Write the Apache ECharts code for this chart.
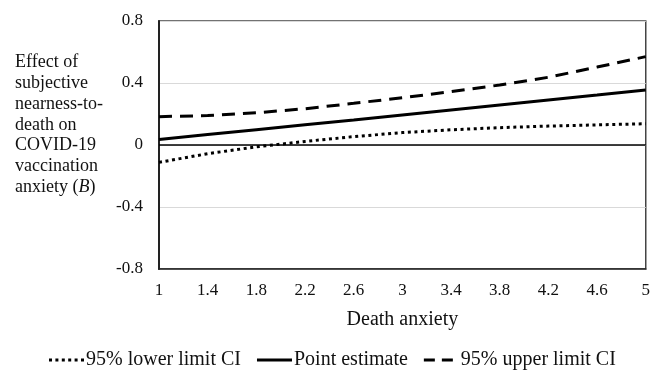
<!DOCTYPE html>
<html>
<head>
<meta charset="utf-8">
<script src="https://cdn.jsdelivr.net/npm/echarts@6/dist/echarts.min.js"></script>
<style>
html,body{margin:0;padding:0;background:#fff;}
#chart{width:653px;height:372px;}
</style>
</head>
<body>
<div id="chart"></div>
<script>
var categories = ['1','1.4','1.8','2.2','2.6','3','3.4','3.8','4.2','4.6','5'];
var lowerCI = [-0.112,-0.056,-0.012,0.023,0.054,0.080,0.098,0.112,0.122,0.130,0.137];
var pointEstimate = [0.035,0.067,0.099,0.131,0.162,0.194,0.226,0.258,0.290,0.322,0.355];
var upperCI = [0.183,0.190,0.208,0.234,0.269,0.305,0.344,0.387,0.437,0.503,0.570];
var seriesNames = ['95% lower limit CI','Point estimate','95% upper limit CI'];
var xTitle = 'Death anxiety';
var yTitle = 'Effect of\nsubjective\nnearness-to-\ndeath on\nCOVID-19\nvaccination\nanxiety ({i|B})';

var FONT = "'Liberation Serif','Times New Roman',serif";
// legend icon shapes (35 x 3 units)
var dotIcon = 'path://M0,0h3v3h-3z M6.4,0h3v3h-3z M12.8,0h3v3h-3z M19.2,0h3v3h-3z M25.6,0h3v3h-3z M32,0h3v3h-3z';
var solidIcon = 'path://M0,0h35v3h-35z';
var dashIcon = 'path://M0,0h11v3h-11z M18,0h11v3h-11z M35,0h0v3h0z';

var chart = echarts.init(document.getElementById('chart'), null, {renderer:'canvas'});
chart.setOption({
  animation: false,
  backgroundColor: '#fff',
  textStyle: {fontFamily: FONT, color: '#000'},
  grid: {left: 159, right: 5, top: 21, bottom: 103, show: true, borderColor: '#444', borderWidth: 1.5, containLabel: false},
  xAxis: {
    type: 'category', data: categories, boundaryGap: false,
    axisLine: {onZero: false, lineStyle: {color: '#222', width: 1.5}},
    axisTick: {show: false},
    axisLabel: {fontFamily: FONT, fontSize: 17, color: '#111', margin: 13},
    splitLine: {show: false},
    name: xTitle, nameLocation: 'middle', nameGap: 41,
    nameTextStyle: {fontFamily: FONT, fontSize: 20, color: '#111'}
  },
  yAxis: {
    type: 'value', min: -0.8, max: 0.8, interval: 0.4,
    axisLine: {show: true, lineStyle: {color: '#222', width: 2}},
    axisTick: {show: false},
    axisLabel: {fontFamily: FONT, fontSize: 17, color: '#111', margin: 16},
    splitLine: {show: true, lineStyle: {color: '#d9d9d9', width: 1}}
  },
  legend: {
    left: 44, top: 345, itemWidth: 35, itemHeight: 3, itemGap: 16,
    textStyle: {fontFamily: FONT, fontSize: 20, color: '#111', padding: [0,0,0,-3]},
    itemStyle: {color: '#000', borderWidth: 0},
    lineStyle: {width: 0},
    data: [
      {name: seriesNames[0], icon: dotIcon},
      {name: seriesNames[1], icon: solidIcon},
      {name: seriesNames[2], icon: dashIcon}
    ]
  },
  graphic: [{
    type: 'text', left: 15, top: 52,
    style: {
      text: yTitle,
      font: '18px ' + FONT, fill: '#111', lineHeight: 20.8,
      rich: {i: {fontStyle: 'italic', fontFamily: FONT, fontSize: 18, lineHeight: 20.8, fill: '#111'}}
    }
  }],
  series: [
    {name: seriesNames[0], type: 'line', data: lowerCI, symbol: 'none', showSymbol: false,
     lineStyle: {color: '#000', width: 3, type: [3, 3.6], cap: 'butt'}, itemStyle: {color: '#000'}, z: 3},
    {name: seriesNames[1], type: 'line', data: pointEstimate, symbol: 'none', showSymbol: false,
     lineStyle: {color: '#000', width: 3}, itemStyle: {color: '#000'}, z: 3,
     markLine: {silent: true, symbol: 'none', label: {show: false},
       lineStyle: {color: '#000', width: 1.5, type: 'solid'}, data: [{yAxis: 0}]}},
    {name: seriesNames[2], type: 'line', data: upperCI, symbol: 'none', showSymbol: false,
     lineStyle: {color: '#000', width: 3, type: [13, 8]}, itemStyle: {color: '#000'}, z: 3}
  ]
});
</script>
</body>
</html>
